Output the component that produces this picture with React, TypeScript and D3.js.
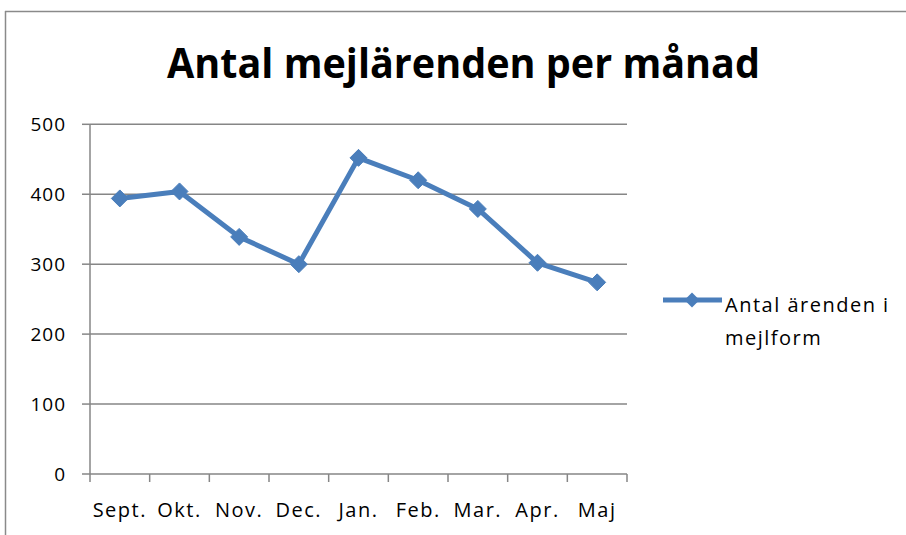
import React from "react";
import * as d3 from "d3";

const categories = ["Sept.", "Okt.", "Nov.", "Dec.", "Jan.", "Feb.", "Mar.", "Apr.", "Maj"];
const values = [394, 404, 339, 300, 452, 420, 379, 302, 274];
const yTicks = [0, 100, 200, 300, 400, 500];
const title = "Antal mejlärenden per månad";
const seriesName = ["Antal ärenden i", "mejlform"];

const W = 906;
const H = 535;
const left = 90;
const right = 627;
const top = 124.3;
const bottom = 474;
const blue = "#4A7EBB";
const gray = "#868686";
const font = "'Open Sans', 'Noto Sans', sans-serif";

export default function App() {
  const x = d3.scaleBand<string>().domain(categories).range([left, right]).padding(0);
  const y = d3.scaleLinear().domain([0, 500]).range([bottom, top]);
  const cx = (c: string) => (x(c) as number) + x.bandwidth() / 2;
  const line = d3
    .line<number>()
    .x((_, i) => cx(categories[i]))
    .y((d) => y(d));
  const diamond = (r: number) => `M0,${-r}L${r},0L0,${r}L${-r},0Z`;
  const boundaries = categories.map((c) => x(c) as number).concat([right]);

  return (
    <svg
      width={W}
      height={H}
      style={{ position: "absolute", left: 0, top: 0, background: "#fff" }}
    >
      <rect x={0} y={0} width={W} height={H} fill="#fff" />
      <line x1={5} y1={11.5} x2={W} y2={11.5} stroke="#8a8a8a" strokeWidth={1.5} />
      <line x1={5.5} y1={11} x2={5.5} y2={H} stroke="#8a8a8a" strokeWidth={1.5} />

      <text
        x={463.5}
        y={78}
        textAnchor="middle"
        fontFamily={font}
        fontWeight="bold"
        fontSize={42}
        textLength={593}
        lengthAdjust="spacingAndGlyphs"
        fill="#000"
      >
        {title}
      </text>

      {yTicks.map((t) => (
        <g key={t}>
          {t > 0 && (
            <line x1={left} x2={right} y1={y(t)} y2={y(t)} stroke={gray} strokeWidth={1.5} />
          )}
          <line x1={left - 8} x2={left} y1={y(t)} y2={y(t)} stroke={gray} strokeWidth={1.5} />
          <text
            x={66}
            y={y(t)}
            dy="0.36em"
            textAnchor="end"
            fontFamily={font}
            fontSize={19}
            letterSpacing={1}
            fill="#000"
          >
            {t}
          </text>
        </g>
      ))}

      <line x1={left} x2={left} y1={top} y2={bottom} stroke={gray} strokeWidth={1.5} />
      <line x1={left} x2={right} y1={bottom} y2={bottom} stroke={gray} strokeWidth={1.5} />
      {boundaries.map((b, i) => (
        <line key={i} x1={b} x2={b} y1={bottom} y2={bottom + 8} stroke={gray} strokeWidth={1.5} />
      ))}
      {categories.map((c) => (
        <text
          key={c}
          x={cx(c)}
          y={517}
          textAnchor="middle"
          fontFamily={font}
          fontSize={20}
          letterSpacing={1.5}
          fill="#000"
        >
          {c}
        </text>
      ))}

      <path
        d={line(values) || ""}
        fill="none"
        stroke={blue}
        strokeWidth={5}
        strokeLinejoin="round"
      />
      {values.map((v, i) => (
        <path
          key={i}
          d={diamond(8.5)}
          transform={`translate(${cx(categories[i])},${y(v)})`}
          fill={blue}
          stroke={blue}
          strokeWidth={1}
        />
      ))}

      <line x1={663} x2={722} y1={300} y2={300} stroke={blue} strokeWidth={5} />
      <path d={diamond(7.5)} transform="translate(692,300)" fill={blue} />
      <text x={725} y={312} fontFamily={font} fontSize={20} letterSpacing={1.5} fill="#000">
        {seriesName[0]}
      </text>
      <text x={725} y={345} fontFamily={font} fontSize={20} letterSpacing={1.5} fill="#000">
        {seriesName[1]}
      </text>
    </svg>
  );
}
